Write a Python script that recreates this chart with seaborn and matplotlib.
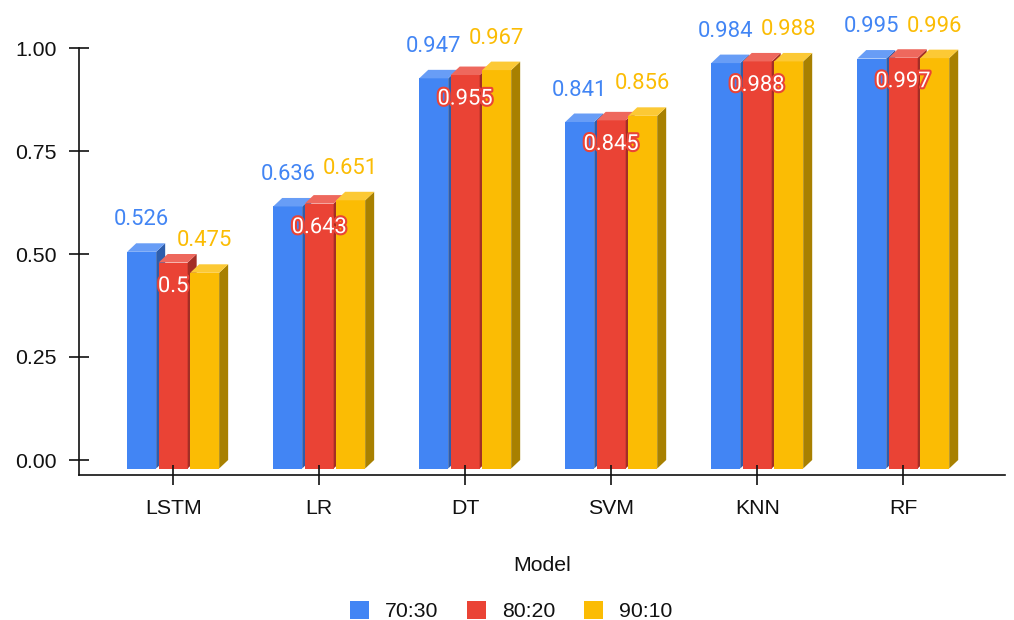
import matplotlib
matplotlib.use("Agg")
import matplotlib.patheffects as pe
import matplotlib.pyplot as plt
import pandas as pd
import seaborn as sns
from matplotlib.patches import Polygon

# Data
models = ["LSTM", "LR", "DT", "SVM", "KNN", "RF"]
split_names = ["70:30", "80:20", "90:10"]
scores_70 = [0.526, 0.636, 0.947, 0.841, 0.984, 0.995]
scores_80 = [0.5, 0.643, 0.955, 0.845, 0.988, 0.997]
scores_90 = [0.475, 0.651, 0.967, 0.856, 0.988, 0.996]

front_colors = ["#4285F4", "#EA4335", "#FBBC04"]
side_colors = ["#2E5DAB", "#A32E25", "#A88000"]
top_colors = ["#689DF6", "#EE685D", "#FCC935"]
label_colors = ["#4285F4", "#FFFFFF", "#FBBC04"]

W, H = 1014, 620
DEPTH_X = 9    # px, extrusion of the 3D bars
DEPTH_Y = 8.5  # px
FONT = "Liberation Sans"
TEXT = "#111111"

df = pd.DataFrame({
    "Model": models * 3,
    "Split": [s for s in split_names for _ in models],
    "Score": scores_70 + scores_80 + scores_90,
})

sns.set_theme(style="ticks")
plt.rcParams["font.family"] = [FONT, "DejaVu Sans"]

fig = plt.figure(figsize=(W / 100, H / 100), dpi=100)
ax = fig.add_axes([79 / W, (H - 475) / H, (1005 - 79) / W, (475 - 45) / H])

sns.barplot(data=df, x="Model", y="Score", hue="Split", palette=front_colors,
            saturation=1, width=0.647, gap=0.08, linewidth=0, ax=ax)

ax.set_xlim(-0.645, 5.697)
ax.set_ylim(-15 / 412, 415 / 412)
ax.set_yticks([0, 0.25, 0.5, 0.75, 1.0], ["0.00", "0.25", "0.50", "0.75", "1.00"])
ax.set_ylabel("")
ax.set_xlabel("Model", fontsize=15.3, color=TEXT, labelpad=27)
ax.set_axisbelow(False)
ax.tick_params(axis="both", direction="inout", length=15, width=1.2, color=TEXT,
               labelcolor=TEXT, labelsize=15.3)
ax.tick_params(axis="x", pad=10)
ax.tick_params(axis="y", pad=8.7)
sns.despine(ax=ax)
for side in ["left", "bottom"]:
    ax.spines[side].set_linewidth(1.2)
    ax.spines[side].set_color(TEXT)
ax.spines["left"].set_bounds(ax.get_ylim()[0], 1.0)

# px to data units
dx = DEPTH_X * (ax.get_xlim()[1] - ax.get_xlim()[0]) / (1005 - 79)
dy = DEPTH_Y * (ax.get_ylim()[1] - ax.get_ylim()[0]) / (475 - 45)

# Extrude each seaborn bar: the back edge sits at the value, the front drops by the depth
for i, container in enumerate(ax.containers):
    z = 1.1 + i * 0.1
    for bar in container:
        x0 = bar.get_x()
        x1 = x0 + bar.get_width()
        value = bar.get_height()
        bar.set_y(-dy)
        bar.set_zorder(z)
        bar.set_clip_on(False)
        bottom = -dy
        front_top = value - dy
        ax.add_patch(Polygon([(x1, bottom), (x1 + dx, 0), (x1 + dx, value), (x1, front_top)],
                             facecolor=side_colors[i], edgecolor="none", zorder=z, clip_on=False))
        ax.add_patch(Polygon([(x0, front_top), (x0 + dx, value), (x1 + dx, value), (x1, front_top)],
                             facecolor=top_colors[i], edgecolor="none", zorder=z, clip_on=False))

        # Value labels, the middle series sits inside the bar with a halo
        cx = (x0 + x1) / 2
        if i == 1:
            ax.annotate(f"{value:g}", (cx, value), xytext=(0, -32.5 * 0.72), textcoords="offset points",
                        ha="center", va="center", fontsize=15.8, family="Roboto",
                        color=label_colors[i], zorder=3, annotation_clip=False,
                        path_effects=[pe.withStroke(linewidth=3, foreground="#EA4335")])
        else:
            ax.annotate(f"{value:g}", (cx, value), xytext=(0, 23.5 * 0.72), textcoords="offset points",
                        ha="center", va="center", fontsize=15.8, family="Roboto",
                        color=label_colors[i], zorder=3, annotation_clip=False)

sns.move_legend(ax, "center", bbox_to_anchor=(511 / W, 9 / H), bbox_transform=fig.transFigure,
                ncol=3, title=None, frameon=False, fontsize=15.3, handlelength=0.9, handleheight=0.95,
                handletextpad=0.75, columnspacing=1.36, labelcolor=TEXT, borderpad=0)

fig.savefig("out.png", dpi=100)
